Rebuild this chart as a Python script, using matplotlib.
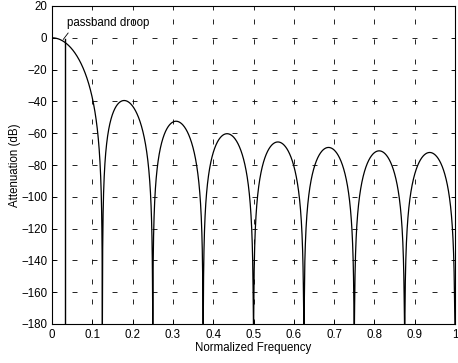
import numpy as np
import matplotlib.pyplot as plt

plt.rcParams['font.family'] = ['Liberation Sans', 'DejaVu Sans']

# CIC filter: nulls every 0.125, sidelobes -40 .. -72 dB
stages = 3
rate = 16
passband_edge = 0.03125
floor_db = -180

xticks = [0, 0.1, 0.2, 0.3, 0.4, 0.5, 0.6, 0.7, 0.8, 0.9, 1]
xticklabels = ["0", "0.1", "0.2", "0.3", "0.4", "0.5", "0.6", "0.7", "0.8", "0.9", "1"]
yticks = [20, 0, -20, -40, -60, -80, -100, -120, -140, -160, -180]

f = np.linspace(1e-6, 1, 4000)
h = np.abs(np.sin(rate * np.pi * f / 2) / (rate * np.sin(np.pi * f / 2))) ** stages
att = np.maximum(20 * np.log10(h + 1e-20), floor_db)

fig = plt.figure(figsize=(4.58, 3.63), dpi=100)
ax = fig.add_axes([52 / 458, 1 - 324 / 363, 403 / 458, 318 / 363])

ax.plot(f, att, color="black", lw=0.9)
ax.plot([passband_edge, passband_edge], [-1, floor_db], color="black", lw=1)
ax.plot([0.028, 0.04], [-1, 3], color="black", lw=0.6)
ax.text(0.036, 5.5, "passband droop", fontsize=8.3, va="bottom")

ax.set_xlim(0, 1)
ax.set_ylim(-180, 20)
ax.set_xticks(xticks)
ax.set_xticklabels(xticklabels)
ax.set_yticks(yticks)
ax.tick_params(direction="in", labelsize=8.3, length=3, width=0.6, top=True, right=True)
ax.grid(True, color="black", linestyle=(0, (6, 18)), lw=0.6)
for s in ax.spines.values():
    s.set_linewidth(0.8)

ax.set_xlabel("Normalized Frequency", fontsize=8.3, labelpad=1)
ax.set_ylabel("Attenuation (dB)", fontsize=8.3, labelpad=0)

fig.savefig("out.png", dpi=100)
